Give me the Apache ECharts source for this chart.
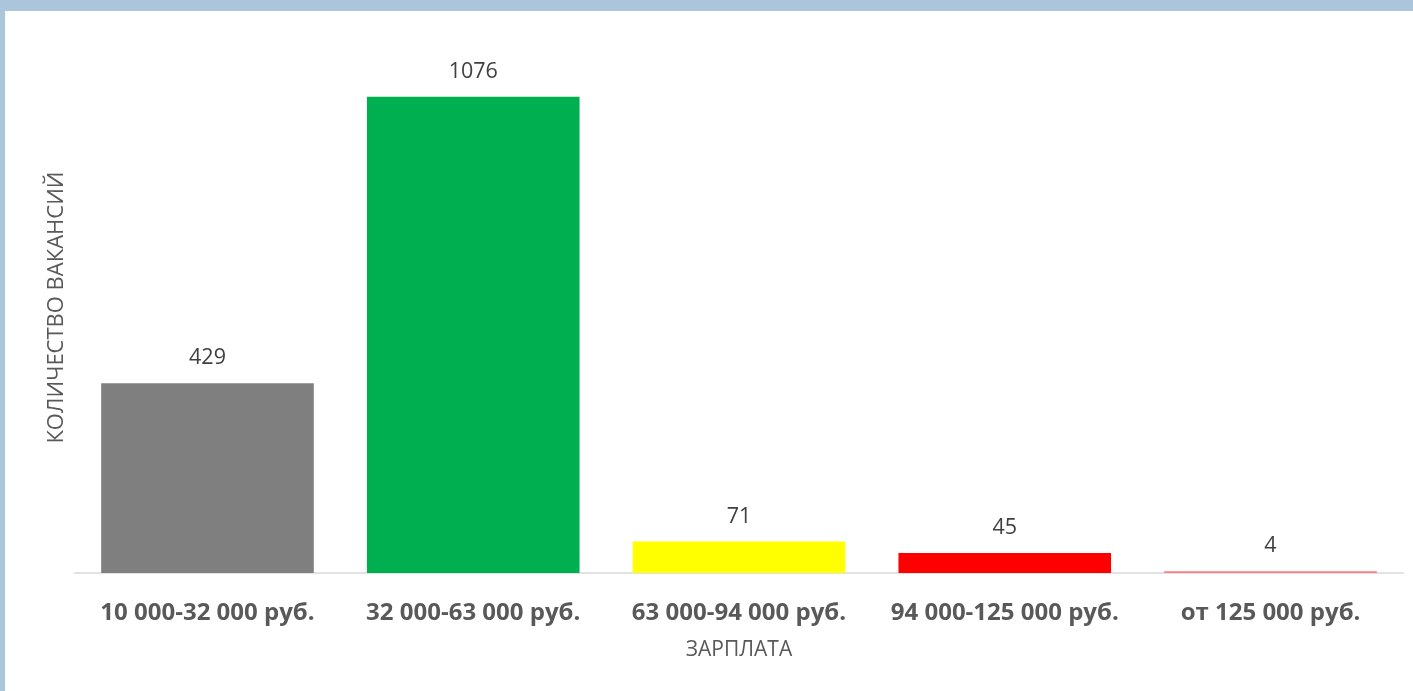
<!DOCTYPE html>
<html><head><meta charset="utf-8">
<script src="https://cdn.jsdelivr.net/npm/echarts@6/dist/echarts.min.js"></script>
<style>
html,body{margin:0;padding:0;width:1413px;height:691px;background:#abc5dd;overflow:hidden;}
#c{position:absolute;left:5px;top:11px;width:1408px;height:680px;background:#fff;}
</style></head><body>
<div id="c"></div>
<script>
const categories = ['10 000-32 000 руб.', '32 000-63 000 руб.', '63 000-94 000 руб.', '94 000-125 000 руб.', 'от 125 000 руб.'];
const values = [429, 1076, 71, 45, 4];
const barColors = ['#7f7f7f', '#00b050', '#ffff00', '#ff0000', '#ff7c80'];

const chart = echarts.init(document.getElementById('c'));
chart.setOption({
  animation: false,
  grid: {left: 69.6, right: 9.6, top: 31, bottom: 118},
  xAxis: {
    type: 'category', data: categories,
    name: 'ЗАРПЛАТА', nameLocation: 'middle', nameGap: 67,
    nameTextStyle: {color: '#595959', fontSize: 21, fontFamily: 'Open Sans'},
    axisLine: {lineStyle: {color: '#d9d9d9', width: 1.5}},
    axisTick: {show: false},
    axisLabel: {interval: 0, color: '#595959', fontSize: 24, fontWeight: 'bold', fontFamily: 'Open Sans', margin: 28.5}
  },
  yAxis: {
    type: 'value', min: 0, max: 1200,
    name: 'КОЛИЧЕСТВО ВАКАНСИЙ', nameLocation: 'middle', nameGap: 7, nameRotate: 90,
    nameTextStyle: {color: '#595959', fontSize: 22, fontFamily: 'Open Sans'},
    axisLine: {show: false}, axisTick: {show: false}, axisLabel: {show: false},
    splitLine: {show: false}
  },
  series: [{
    type: 'bar', barCategoryGap: '20%',
    data: values.map((v, i) => ({value: v, itemStyle: {color: barColors[i]}})),
    label: {show: true, position: 'top', distance: 14, color: '#404040', fontSize: 21.5, fontFamily: 'Open Sans'}
  }]
});
</script></body></html>
